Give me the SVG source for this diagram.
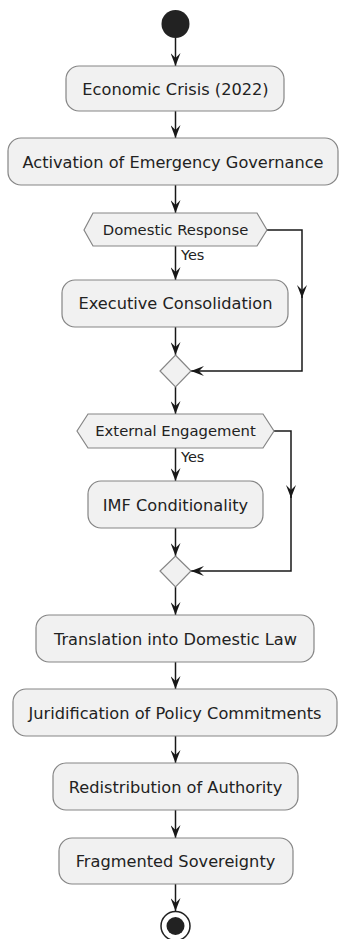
<svg xmlns="http://www.w3.org/2000/svg" width="339" height="939" viewBox="0 0 339 939">
<style>
.box{fill:#F1F1F1;stroke:#858585;stroke-width:1.2}
.t{font-family:"DejaVu Sans",sans-serif;font-size:16.2px;fill:#222;text-anchor:middle}
.d{font-family:"DejaVu Sans",sans-serif;font-size:14.8px;fill:#222;text-anchor:middle}
.y{font-family:"DejaVu Sans",sans-serif;font-size:14.5px;fill:#222}
.ln{fill:none;stroke:#181818;stroke-width:1.5;marker-end:url(#ah)}
</style>
<defs>
<marker id="ah" viewBox="0 0 14 10" refX="13" refY="5" markerWidth="14" markerHeight="10" markerUnits="userSpaceOnUse" orient="auto">
<path d="M0,0 L13,5 L0,10 L5,5 Z" fill="#181818"/>
</marker>
</defs>
<rect width="339" height="939" fill="#fff"/>
<g id="connectors">
<path class="ln" d="M175.5,38 V66"/>
<path class="ln" d="M175.5,111 V138"/>
<path class="ln" d="M175.5,185 V213"/>
<path class="ln" d="M175.5,246 V280"/>
<path class="ln" d="M175.5,327 V355"/>
<path class="ln" d="M267,230 H302 V298"/>
<path class="ln" d="M302,296 V371 H191"/>
<path class="ln" d="M175.5,387 V414"/>
<path class="ln" d="M175.5,448 V481"/>
<path class="ln" d="M175.5,528 V556"/>
<path class="ln" d="M274,431 H291 V498"/>
<path class="ln" d="M291,496 V571 H191"/>
<path class="ln" d="M175.5,587 V615"/>
<path class="ln" d="M175.5,662 V689"/>
<path class="ln" d="M175.5,736 V763"/>
<path class="ln" d="M175.5,810 V838"/>
<path class="ln" d="M175.5,884 V911"/>
<text class="y" x="181" y="260">Yes</text>
<text class="y" x="181" y="462">Yes</text>
</g>
<g id="start"><circle cx="175.5" cy="24" r="14" fill="#222"/></g>
<g id="n1"><rect class="box" x="66" y="66" width="218" height="45" rx="13"/><text class="t" x="175.5" y="95">Economic Crisis (2022)</text></g>
<g id="n2"><rect class="box" x="8" y="138" width="330" height="47" rx="13"/><text class="t" x="173" y="167.5">Activation of Emergency Governance</text></g>
<g id="d1"><polygon class="box" points="84,230 93,213 257,213 267,230 257,246 93,246"/><text class="d" x="175.5" y="235">Domestic Response</text></g>
<g id="n3"><rect class="box" x="62" y="280" width="226" height="47" rx="13"/><text class="t" x="175.5" y="309">Executive Consolidation</text></g>
<g id="m1"><polygon class="box" points="175.5,355 191,371 175.5,387 160,371"/></g>
<g id="d2"><polygon class="box" points="77,431 88,414 263,414 274,431 263,448 88,448"/><text class="d" x="175.5" y="436">External Engagement</text></g>
<g id="n4"><rect class="box" x="88" y="481" width="175" height="47" rx="13"/><text class="t" x="175.5" y="510.5">IMF Conditionality</text></g>
<g id="m2"><polygon class="box" points="175.5,556 191,571 175.5,587 160,571"/></g>
<g id="n5"><rect class="box" x="36" y="615" width="278" height="47" rx="13"/><text class="t" x="175.5" y="644.5">Translation into Domestic Law</text></g>
<g id="n6"><rect class="box" x="13" y="689" width="324" height="47" rx="13"/><text class="t" x="175" y="718.5">Juridification of Policy Commitments</text></g>
<g id="n7"><rect class="box" x="53" y="763" width="245" height="47" rx="13"/><text class="t" x="175.5" y="792.5">Redistribution of Authority</text></g>
<g id="n8"><rect class="box" x="59" y="838" width="234" height="46" rx="13"/><text class="t" x="175.5" y="867">Fragmented Sovereignty</text></g>
<g id="end"><circle cx="175.5" cy="926" r="14.5" fill="#fff" stroke="#222" stroke-width="1.5"/><circle cx="175.5" cy="926" r="9" fill="#222"/></g>
</svg>
